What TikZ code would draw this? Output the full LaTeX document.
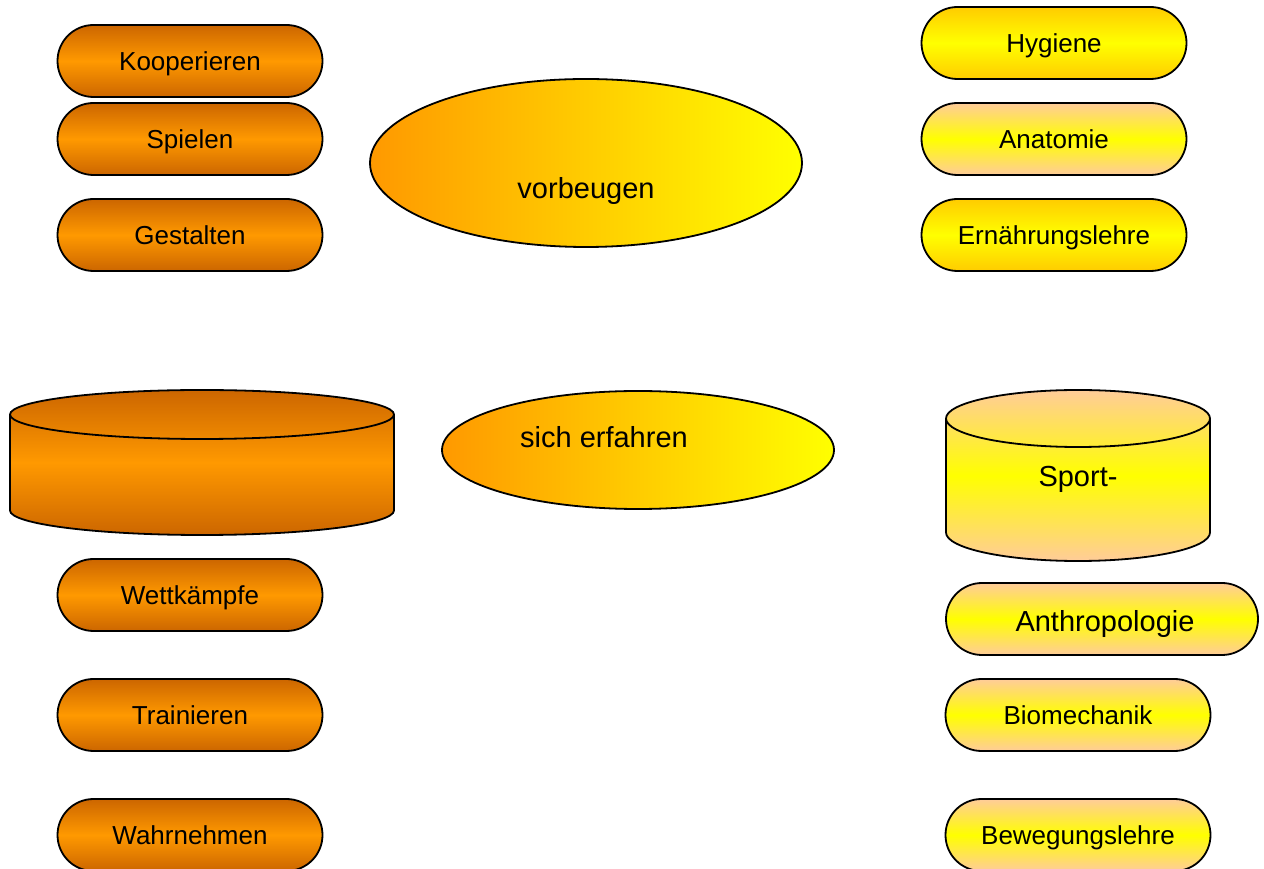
\documentclass[tikz,border=0pt]{standalone}
\usepackage{fontspec}
\setmainfont{Liberation Sans}
\usetikzlibrary{shapes.misc,shapes.geometric}
\definecolor{darkorange}{RGB}{204,102,0}
\definecolor{lightorange}{RGB}{255,153,0}
\definecolor{gold}{RGB}{255,204,0}
\definecolor{peach}{RGB}{255,204,153}
\definecolor{lemon}{RGB}{255,255,0}

\begin{document}
\begin{tikzpicture}[x=1pt,y=1pt,
    pill/.style={rounded rectangle, draw, line width=1.8pt, inner sep=0pt,
      minimum width=265pt, minimum height=72pt, text depth=0pt,
      font=\fontsize{26}{30}\selectfont},
    orangepill/.style={pill, top color=darkorange, bottom color=darkorange, middle color=lightorange},
    goldpill/.style={pill, top color=gold, bottom color=gold, middle color=lemon},
    peachpill/.style={pill, top color=peach, bottom color=peach, middle color=lemon},
    blob/.style={ellipse, draw, line width=1.8pt, inner sep=0pt,
      left color=lightorange, right color=lemon},
    big/.style={font=\fontsize{29}{34}\selectfont, text depth=0pt}]
  \useasboundingbox (0,0) rectangle (1264,868);

  % left column
  \node[orangepill] (koop) at (190,807) {Kooperieren};
  \node[orangepill] (spiel) at (190,729) {Spielen};
  \node[orangepill] (gest) at (190,633) {Gestalten};
  \node[orangepill] (wett) at (190,273) {Wettk\"ampfe};
  \node[orangepill] (train) at (190,153) {Trainieren};
  \node[orangepill] (wahr) at (190,33) {Wahrnehmen};

  % right column
  \node[goldpill] (hyg) at (1054,825) {Hygiene};
  \node[peachpill] (anat) at (1054,729) {Anatomie};
  \node[goldpill] (ern) at (1054,633) {Ern\"ahrungslehre};
  \node[peachpill, minimum width=312pt, big] (anth) at (1102,249) {\raisebox{-3pt}{\hspace{6pt}Anthropologie}};
  \node[peachpill] (bio) at (1078,153) {Biomechanik};
  \node[peachpill] (bew) at (1078,33) {Bewegungslehre};

  % middle
  \node[blob, minimum width=432pt, minimum height=168pt] (vorb) at (586,705) {};
  \node[big] (vorbtext) at (586,680) {vorbeugen};
  \node[blob, minimum width=392pt, minimum height=118pt] (erf) at (638,418) {};
  \node[big] (erftext) at (604,431) {sich erfahren};

  % cylinders
  \shade[top color=darkorange, bottom color=darkorange, middle color=lightorange]
    (10,453.5) -- (10,357.5) arc[start angle=180, end angle=360, x radius=192, y radius=24.5]
    -- (394,453.5) arc[start angle=0, end angle=180, x radius=192, y radius=24.5] -- cycle;
  \draw[line width=1.8pt] (10,453.5) -- (10,357.5)
    arc[start angle=180, end angle=360, x radius=192, y radius=24.5] -- (394,453.5);
  \draw[line width=1.8pt] (202,453.5) ellipse[x radius=192, y radius=24.5];

  \shade[top color=peach, bottom color=peach, middle color=lemon]
    (946,449.5) -- (946,335.5) arc[start angle=180, end angle=360, x radius=132, y radius=28.5]
    -- (1210,449.5) arc[start angle=0, end angle=180, x radius=132, y radius=28.5] -- cycle;
  \draw[line width=1.8pt] (946,449.5) -- (946,335.5)
    arc[start angle=180, end angle=360, x radius=132, y radius=28.5] -- (1210,449.5);
  \draw[line width=1.8pt] (1078,449.5) ellipse[x radius=132, y radius=28.5];
  \node[big] (sport) at (1078,392) {Sport-};
\end{tikzpicture}
\end{document}
